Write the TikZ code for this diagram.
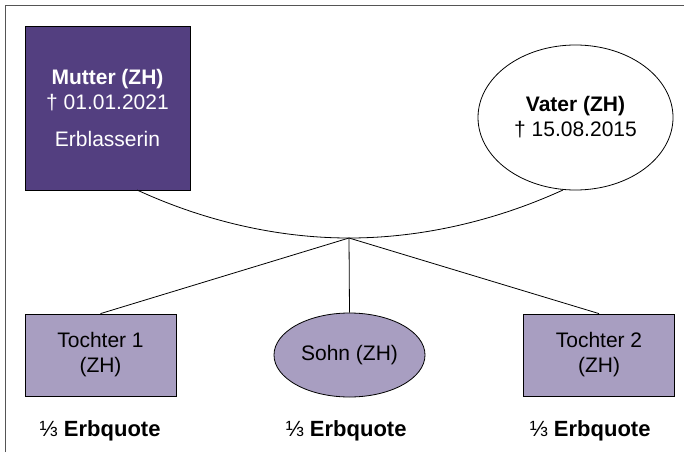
\documentclass[tikz,border=0pt]{standalone}
\usepackage{fontspec}
\setmainfont{Liberation Sans}
\usetikzlibrary{shapes.geometric}
\definecolor{lila}{HTML}{533F80}
\definecolor{hlila}{HTML}{A89EC1}
\definecolor{rahmen}{HTML}{555555}

\begin{document}
\begin{tikzpicture}[x=1pt, y=-1pt, font=\fontsize{21}{25}\selectfont, line width=0.8pt,
	kind/.style={draw,fill=hlila,minimum width=151pt,minimum height=82pt,align=center,inner sep=0pt},
	quote/.style={font=\fontsize{22}{26}\selectfont\bfseries}]
\useasboundingbox (0,0) rectangle (684,452);
\draw[rahmen, line width=1pt] (5,452) -- (5,6) -- (684,6);
% Eltern
\node[draw,fill=lila,text=white,minimum width=165pt,minimum height=164pt,align=center,inner sep=0pt] (mutter) at (107.5,108) {\textbf{Mutter (ZH)}\\{\dag} 01.01.2021\\[12pt]Erblasserin};
\node[draw,ellipse,minimum width=195pt,minimum height=145pt,align=center,inner sep=0pt] (vater) at (575.5,117.5) {\textbf{Vater (ZH)}\\{\dag} 15.08.2015};
\coordinate (m) at (137,190);
\coordinate (v) at (563,190);
\coordinate (j) at (349,238);
\draw (m) parabola bend (j) (v);
% Kinder
\node[kind] (t1) at (100.5,355) {Tochter 1\\(ZH)};
\node[kind,ellipse,minimum height=84pt] (sohn) at (349.5,355) {Sohn (ZH)};
\node[kind] (t2) at (599,355) {Tochter 2\\(ZH)};
\draw (j) to (t1.north);
\draw (j) to (sohn.north);
\draw (j) to (t2.north);
\node[quote] (q1) at (100,431) {{\mdseries ⅓} Erbquote};
\node[quote] (q2) at (346,431) {{\mdseries ⅓} Erbquote};
\node[quote] (q3) at (590,431) {{\mdseries ⅓} Erbquote};
\end{tikzpicture}
\end{document}
